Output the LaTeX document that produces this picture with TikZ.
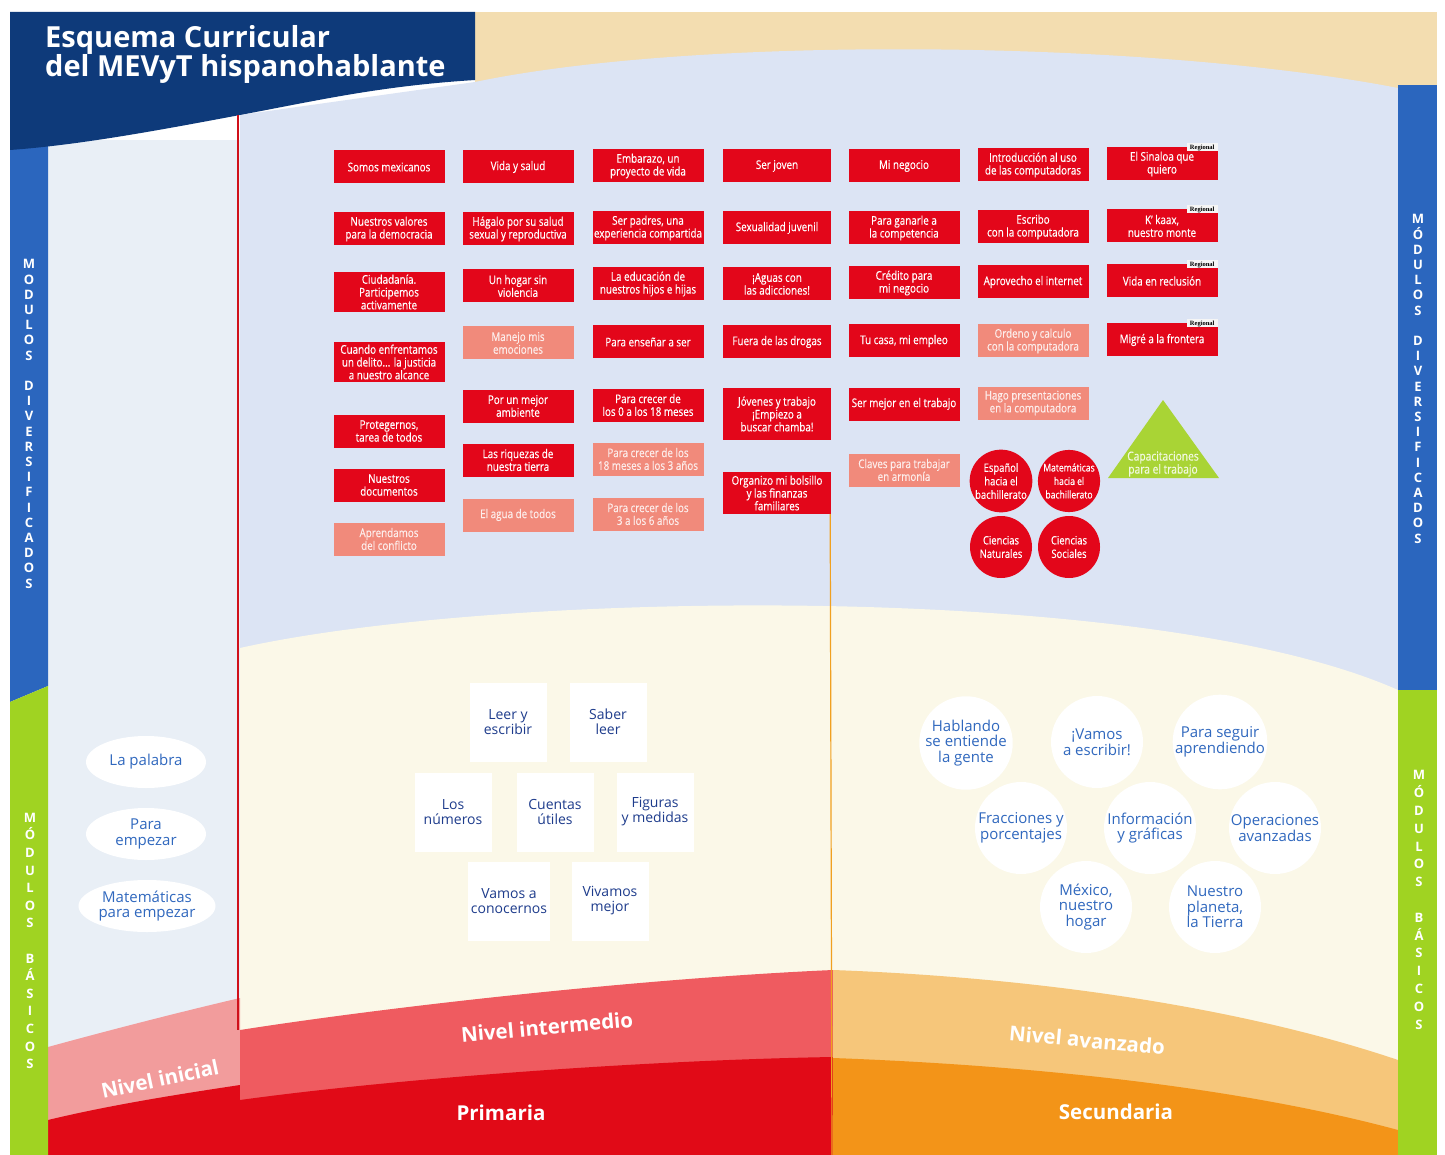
\documentclass[tikz,border=0pt]{standalone}
\usepackage{fontspec}
\setmainfont{Open Sans}
\newfontfamily\condfont[FakeStretch=0.82, FakeBold=0.4]{Open Sans}
\newfontfamily\tagfont{Liberation Serif}
\usetikzlibrary{shapes.geometric}

\definecolor{navyhead}{HTML}{0E3A7A}
\definecolor{stripblue}{HTML}{2B66BE}
\definecolor{stripgreen}{HTML}{A0D322}
\definecolor{lavpanel}{HTML}{DCE4F4}
\definecolor{leftpanel}{HTML}{E9EFF6}
\definecolor{creampanel}{HTML}{FBF8E8}
\definecolor{topbeige}{HTML}{F3DDB0}
\definecolor{modred}{HTML}{E3061A}
\definecolor{modlight}{HTML}{F18A7B}
\definecolor{pinkini}{HTML}{F29C9C}
\definecolor{pinkint}{HTML}{EF5B60}
\definecolor{redprim}{HTML}{E10A17}
\definecolor{peachav}{HTML}{F6C67A}
\definecolor{orangesec}{HTML}{F39418}
\definecolor{capgreen}{HTML}{A9D435}
\definecolor{txtnavy}{HTML}{1E3C8C}
\definecolor{txtblue}{HTML}{3068BE}
\definecolor{linered}{HTML}{D0101A}
\definecolor{lineorange}{HTML}{F0A020}

\tikzset{
  modbox/.style={fill=modred, text=white, minimum width=111, minimum height=33,
    inner xsep=1, inner ysep=3, align=center, font=\condfont\fontsize{12}{12.8}\selectfont},
  modlite/.style={modbox, fill=modlight, text=white!85!modlight},
  modcirc/.style={circle, fill=modred, text=white, minimum size=62, inner sep=0,
    align=center, font=\condfont\fontsize{11.5}{13.5}\selectfont},
  regtag/.style={fill=gray!8, text=black, inner xsep=3, inner ysep=1, anchor=north east,
    font=\tagfont\bfseries\fontsize{6.5}{7}\selectfont},
  basicsq/.style={fill=white, minimum width=77, minimum height=79, text=txtnavy,
    align=center, font=\fontsize{14}{15}\selectfont},
  basiccirc/.style={circle, fill=white, minimum size=92, inner sep=0, text=txtblue,
    align=center, font=\fontsize{15}{15.5}\selectfont},
  basicell/.style={ellipse, fill=white, minimum width=120, minimum height=52, inner sep=0,
    text=txtblue, align=center, font=\fontsize{15}{15.5}\selectfont},
  striptext/.style={text=white, align=center, font=\bfseries\fontsize{13}{15.2}\selectfont},
  niveltext/.style={text=white, font=\bfseries\fontsize{20.5}{22}\selectfont},
}

\begin{document}
\begin{tikzpicture}[x=1pt, y=-1pt]
\useasboundingbox (0,0) rectangle (1445,1155);
\fill[white] (0,0) rectangle (1445,1155); % margen
\fill[topbeige] (475,12) rectangle (1437,110); % franja superior
\fill[lavpanel] (240,115) -- (475,82) .. controls (700,35) and (1150,40) .. (1398,88)
   -- (1398,1155) -- (240,1155) -- cycle; % modulos diversificados
\fill[leftpanel] (48,140) rectangle (240,1155); % nivel inicial
\fill[creampanel] (240,648) .. controls (500,590) and (1150,580) .. (1398,690)
   -- (1398,1155) -- (240,1155) -- cycle; % modulos basicos
\fill[pinkini] (48,1047) .. controls (110,1030) and (180,1012) .. (240,998) -- (240,1155) -- (48,1155) -- cycle;
\fill[redprim] (48,1120) .. controls (110,1105) and (180,1094) .. (240,1085) -- (240,1155) -- (48,1155) -- cycle;
\fill[pinkint] (240,1030) .. controls (400,1005) and (650,978) .. (833,970) -- (833,1155) -- (240,1155) -- cycle;
\fill[redprim] (240,1100) .. controls (400,1078) and (650,1060) .. (833,1057) -- (833,1155) -- (240,1155) -- cycle;
\fill[peachav] (833,970) .. controls (1050,978) and (1250,1010) .. (1398,1060) -- (1398,1155) -- (833,1155) -- cycle;
\fill[orangesec] (833,1058) .. controls (1050,1066) and (1250,1090) .. (1398,1130) -- (1398,1155) -- (833,1155) -- cycle;
\fill[stripblue] (10,140) -- (48,140) -- (48,686) -- (10,702) -- cycle; % tira izquierda
\fill[stripgreen] (10,702) -- (48,686) -- (48,1155) -- (10,1155) -- cycle;
\fill[stripblue] (1398,85) rectangle (1437,690); % tira derecha
\fill[stripgreen] (1398,690) rectangle (1437,1155);
\fill[navyhead] (10,12) -- (475,12) -- (475,80) .. controls (380,86) and (320,100) .. (240,115)
   .. controls (160,130) and (80,145) .. (10,150) -- cycle; % encabezado

\node[anchor=north west, inner sep=0, align=left, text=white,
   font=\bfseries\fontsize{29}{29.5}\selectfont] (titulo) at (45,25)
   {Esquema Curricular\\del MEVyT hispanohablante};

\coordinate (rojoarriba) at (238,115);
\coordinate (rojoabajo) at (238,1030);
\draw[linered, line width=1.2] (rojoarriba) -- (rojoabajo); % limite nivel inicial

% textos verticales
\node[striptext] (divizq) at (29,424) {M\\O\\D\\U\\L\\O\\S\\[15.2pt]D\\I\\V\\E\\R\\S\\I\\F\\I\\C\\A\\D\\O\\S};
\node[striptext, font=\bfseries\fontsize{13}{17.6}\selectfont] (basizq) at (30,941)
   {M\\Ó\\D\\U\\L\\O\\S\\[17.6pt]B\\Á\\S\\I\\C\\O\\S};
\node[striptext] (divder) at (1418,379) {M\\Ó\\D\\U\\L\\O\\S\\[15.2pt]D\\I\\V\\E\\R\\S\\I\\F\\I\\C\\A\\D\\O\\S};
\node[striptext, font=\bfseries\fontsize{13}{17.8}\selectfont] (basder) at (1419,900)
   {M\\Ó\\D\\U\\L\\O\\S\\[17.8pt]B\\Á\\S\\I\\C\\O\\S};

% columna 1
\node[modbox] (somos) at (389,167) {Somos mexicanos};
\node[modbox] (valores) at (389,229) {Nuestros valores\\para la democracia};
\node[modbox] (ciudad) at (389,292) {Ciudadanía.\\Participemos\\activamente};
\node[modbox] (delito) at (389,362) {Cuando enfrentamos\\un delito... la justicia\\a nuestro alcance};
\node[modbox] (proteg) at (389,431) {Protegernos,\\tarea de todos};
\node[modbox] (docum) at (389,485) {Nuestros\\documentos};
\node[modlite] (conflic) at (389,539) {Aprendamos\\del conflicto};
% columna 2
\node[modbox] (vida) at (518,167) {Vida y salud};
\node[modbox] (hagalo) at (518,229) {Hágalo por su salud\\sexual y reproductiva};
\node[modbox] (hogar) at (518,286) {Un hogar sin\\violencia};
\node[modlite] (manejo) at (518,343) {Manejo mis\\emociones};
\node[modbox] (ambiente) at (518,406) {Por un mejor\\ambiente};
\node[modbox] (riquezas) at (518,460) {Las riquezas de\\nuestra tierra};
\node[modlite] (agua) at (518,515) {El agua de todos};
% columna 3
\node[modbox] (embarazo) at (648,166) {Embarazo, un\\proyecto de vida};
\node[modbox] (padres) at (648,228) {Ser padres, una\\experiencia compartida};
\node[modbox] (educa) at (648,284) {La educación de\\nuestros hijos e hijas};
\node[modbox] (ensenar) at (648,342) {Para enseñar a ser};
\node[modbox] (crecera) at (648,405) {Para crecer de\\los 0 a los 18 meses};
\node[modlite] (crecerb) at (648,459) {Para crecer de los\\18 meses a los 3 años};
\node[modlite] (crecerc) at (648,514) {Para crecer de los\\3 a los 6 años};
% columna 4
\node[modbox, minimum width=108] (joven) at (777,166) {Ser joven};
\node[modbox, minimum width=108] (sexual) at (777,228) {Sexualidad juvenil};
\node[modbox, minimum width=108] (aguas) at (777,284) {¡Aguas con\\las adicciones!};
\node[modbox, minimum width=108] (drogas) at (777,342) {Fuera de las drogas};
\node[modbox, minimum width=108, minimum height=52] (jovenes) at (777,414) {Jóvenes y trabajo\\¡Empiezo a\\buscar chamba!};
\node[modbox, minimum width=108, minimum height=42] (organizo) at (777,493) {Organizo mi bolsillo\\y las finanzas\\familiares};
% columna 5
\node[modbox] (negocio) at (904,166) {Mi negocio};
\node[modbox] (ganarle) at (904,228) {Para ganarle a\\la competencia};
\node[modbox] (credito) at (904,283) {Crédito para\\mi negocio};
\node[modbox] (casa) at (904,341) {Tu casa, mi empleo};
\node[modbox] (mejor) at (904,404) {Ser mejor en el trabajo};
\node[modlite] (claves) at (904,470) {Claves para trabajar\\en armonía};
% columna 6
\node[modbox] (intro) at (1033,165) {Introducción al uso\\de las computadoras};
\node[modbox] (escribo) at (1033,227) {Escribo\\con la computadora};
\node[modbox] (internet) at (1033,282) {Aprovecho el internet};
\node[modlite] (ordeno) at (1033,341) {Ordeno y calculo\\con la computadora};
\node[modlite] (presenta) at (1033,403) {Hago presentaciones\\en la computadora};
\node[modcirc] (espanol) at (1001,481) {Español\\hacia el\\bachillerato};
\node[modcirc, font=\condfont\fontsize{10.5}{13.5}\selectfont] (matem) at (1069,481) {Matemáticas\\hacia el\\bachillerato};
\node[modcirc] (cnat) at (1001,547) {Ciencias\\Naturales};
\node[modcirc] (csoc) at (1069,547) {Ciencias\\Sociales};
% columna 7 (regionales)
\node[modbox] (sinaloa) at (1162,164) {El Sinaloa que\\quiero};
\node[modbox] (kaax) at (1162,226) {K’ kaax,\\nuestro monte};
\node[modbox] (reclusion) at (1162,281) {Vida en reclusión};
\node[modbox] (migre) at (1162,340) {Migré a la frontera};
\node[regtag] (regsin) at ([yshift=4]sinaloa.north east) {Regional};
\node[regtag] (regkaax) at ([yshift=4]kaax.north east) {Regional};
\node[regtag] (regrecl) at ([yshift=4]reclusion.north east) {Regional};
\node[regtag] (regmig) at ([yshift=4]migre.north east) {Regional};
\fill[capgreen] (1108,478) -- (1163,400) -- (1219,478) -- cycle; % capacitacion
\node[align=center, text=white!85!capgreen, font=\condfont\fontsize{12.5}{13}\selectfont] (capacit) at (1163,464) {Capacitaciones\\para el trabajo};

\coordinate (finlinea) at (832,1155);
\draw[lineorange, line width=1.2] ([xshift=-1]organizo.south east) -- (finlinea); % primaria | secundaria

% nivel inicial
\node[basicell] (palabra) at (146,762) {La palabra};
\node[basicell] (empezar) at (146,834) {Para\\empezar};
\node[basicell] (matemp) at (147,906) {Matemáticas\\para empezar};
% nivel intermedio
\node[basicsq] (leer) at (508,722) {Leer y\\escribir};
\node[basicsq] (saber) at (608,722) {Saber\\leer};
\node[basicsq] (numeros) at (453,812) {Los\\números};
\node[basicsq] (cuentas) at (555,812) {Cuentas\\útiles};
\node[basicsq] (figuras) at (655,812) {Figuras\\y medidas};
\node[basicsq] (vamos) at (509,901) {Vamos a\\conocernos};
\node[basicsq] (vivamos) at (610,901) {Vivamos\\mejor};
% nivel avanzado
\node[basiccirc] (hablando) at (966,743) {Hablando\\se entiende\\la gente};
\node[basiccirc] (aescribir) at (1097,742) {¡Vamos\\a escribir!};
\node[basiccirc] (seguir) at (1220,742) {Para seguir\\aprendiendo};
\node[basiccirc] (fracc) at (1021,828) {Fracciones y\\porcentajes};
\node[basiccirc] (info) at (1150,828) {Información\\y gráficas};
\node[basiccirc] (operac) at (1275,828) {Operaciones\\avanzadas};
\node[basiccirc] (mexico) at (1086,907) {México,\\nuestro\\hogar};
\node[basiccirc] (planeta) at (1215,907) {Nuestro\\planeta,\\la Tierra};

% niveles
\node[niveltext, rotate=12] (ninicial) at (160,1079) {Nivel inicial};
\node[niveltext, rotate=5] (nintermedio) at (547,1027) {Nivel intermedio};
\node[niveltext] (primaria) at (501,1113) {Primaria};
\node[niveltext, rotate=-5] (navanzado) at (1087,1040) {Nivel avanzado};
\node[niveltext] (secundaria) at (1116,1112) {Secundaria};
\end{tikzpicture}
\end{document}
